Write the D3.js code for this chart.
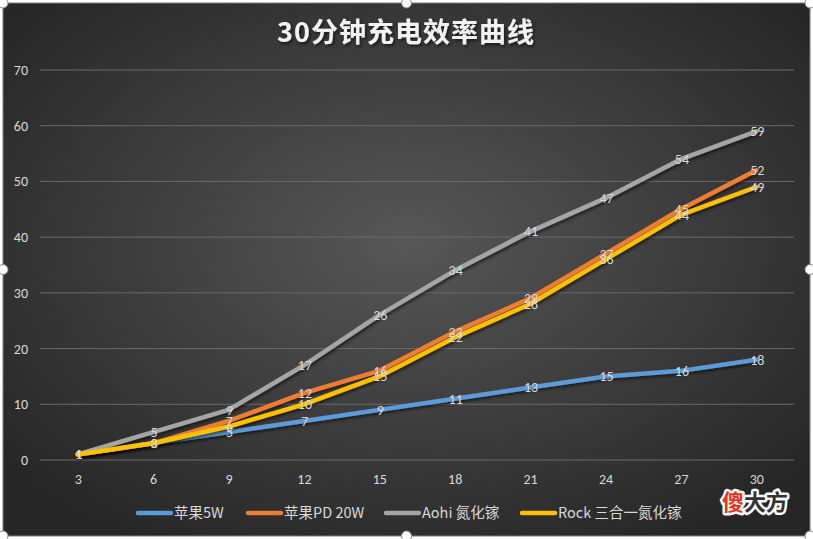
<!DOCTYPE html>
<html>
<head>
<meta charset="utf-8">
<script src="https://cdn.jsdelivr.net/npm/d3@7"></script>
<style>
  body{margin:0;background:#fff;}
  svg{display:block;font-family:"Noto Sans CJK SC","Noto Sans",sans-serif;}
</style>
</head>
<body>
<svg id="chart" width="813" height="539"></svg>
<script>
// 数据
const categories=[3,6,9,12,15,18,21,24,27,30];
const seriesNames=["苹果5W","苹果PD 20W","Aohi 氮化镓","Rock 三合一氮化镓"];
const apple5W=[1,3,5,7,9,11,13,15,16,18];
const applePD20W=[1,3,7,12,16,23,29,37,45,52];
const aohiGaN=[1,5,9,17,26,34,41,47,54,59];
const rockGaN=[1,3,6,10,15,22,28,36,44,49];
const yTicks=[0,10,20,30,40,50,60,70];
const colors=["#5b9bd5","#ed7d31","#a5a5a5","#ffc000"];

const series=[apple5W,applePD20W,aohiGaN,rockGaN].map((v,i)=>({name:seriesNames[i],values:v,color:colors[i]}));

const svg=d3.select("#chart");
const box={x:3,y:3,w:807,h:533};
const plot={left:40,right:794,top:70,bottom:460};
const numFont="Calibri,Carlito,'Open Sans','Noto Sans',sans-serif";

const defs=svg.append("defs");
const grad=defs.append("radialGradient").attr("id","bg")
  .attr("cx","50%").attr("cy","45%").attr("r","65%");
grad.append("stop").attr("offset","0%").attr("stop-color","#575757");
grad.append("stop").attr("offset","100%").attr("stop-color","#262626");

const sh=defs.append("filter").attr("id","shadow").attr("x","-5%").attr("y","-5%").attr("width","110%").attr("height","120%");
sh.append("feDropShadow").attr("dx",1.5).attr("dy",2).attr("stdDeviation",1.5)
  .attr("flood-color","#000").attr("flood-opacity",0.55);

// 背景
svg.append("rect").attr("x",box.x).attr("y",box.y).attr("width",box.w).attr("height",box.h)
  .attr("fill","url(#bg)").attr("stroke","#7f7f7f").attr("stroke-width",1);

const x=d3.scalePoint().domain(categories).range([plot.left,plot.right]).padding(0.5);
const y=d3.scaleLinear().domain([0,70]).range([plot.bottom,plot.top]);

// 网格线
svg.append("g").selectAll("line").data(yTicks).join("line")
  .attr("x1",plot.left).attr("x2",plot.right)
  .attr("y1",d=>y(d)).attr("y2",d=>y(d))
  .attr("stroke","#6a6a6a").attr("stroke-width",1);

// 坐标轴
const yAxis=svg.append("g").attr("transform",`translate(${plot.left-12},0)`)
  .call(d3.axisLeft(y).tickValues(yTicks).tickSize(0).tickPadding(0));
const xAxis=svg.append("g").attr("transform",`translate(0,${plot.bottom+20})`)
  .call(d3.axisBottom(x).tickSize(0).tickPadding(0));
[yAxis,xAxis].forEach(a=>{
  a.select(".domain").remove();
  a.selectAll("text").attr("fill","#d9d9d9").style("font-size","14px").style("font-family",numFont);
});
xAxis.selectAll("text").attr("dy","0.32em");

// 标题
svg.append("text").attr("x",406).attr("y",42).attr("text-anchor","middle")
  .attr("fill","#f2f2f2").attr("font-size","27px").attr("font-weight","bold")
  .attr("letter-spacing","1px")
  .attr("filter","url(#shadow)").text("30分钟充电效率曲线");

// 折线
const line=d3.line().x((d,i)=>x(categories[i])).y(d=>y(d));
svg.append("g").selectAll("path").data(series).join("path")
  .attr("d",d=>line(d.values)).attr("fill","none")
  .attr("stroke",d=>d.color).attr("stroke-width",4.5)
  .attr("stroke-linejoin","round").attr("stroke-linecap","round")
  .attr("filter","url(#shadow)");

// 数据标签
series.forEach(s=>{
  svg.append("g").selectAll("text").data(s.values).join("text")
    .attr("x",(d,i)=>x(categories[i])+1).attr("y",d=>y(d)).attr("dy","0.35em")
    .attr("text-anchor","middle").attr("fill","#d9d9d9").attr("font-size","14px")
    .style("font-family",numFont)
    .text(d=>d);
});

// 图例
const legendX=[136,246,384,520];
const lg=svg.append("g").attr("transform","translate(0,513)");
series.forEach((s,i)=>{
  const g=lg.append("g").attr("transform",`translate(${legendX[i]},0)`);
  g.append("line").attr("x1",2).attr("x2",35).attr("y1",0).attr("y2",0)
    .attr("stroke",s.color).attr("stroke-width",4.5).attr("stroke-linecap","round");
  g.append("text").attr("x",38).attr("y",0).attr("dy","0.35em")
    .attr("fill","#d9d9d9").attr("font-size","14.5px").text(s.name);
});

// 水印
const wm=svg.append("text").attr("x",722).attr("y",510).attr("font-size","22px").attr("font-weight","bold")
  .attr("stroke","#fff").attr("stroke-width",5).attr("paint-order","stroke").attr("stroke-linejoin","round");
wm.append("tspan").attr("fill","#e8321e").text("傻");
wm.append("tspan").attr("fill","#333").text("大方");

// 选择手柄
const handles=[[box.x,box.y],[box.x+box.w/2,box.y],[box.x+box.w,box.y],
  [box.x,box.y+box.h/2],[box.x+box.w,box.y+box.h/2],
  [box.x,box.y+box.h],[box.x+box.w/2,box.y+box.h],[box.x+box.w,box.y+box.h]];
svg.append("g").selectAll("circle").data(handles).join("circle")
  .attr("cx",d=>d[0]).attr("cy",d=>d[1]).attr("r",5)
  .attr("fill","#fff").attr("stroke","#8a8a8a").attr("stroke-width",1);
</script>
</body>
</html>
